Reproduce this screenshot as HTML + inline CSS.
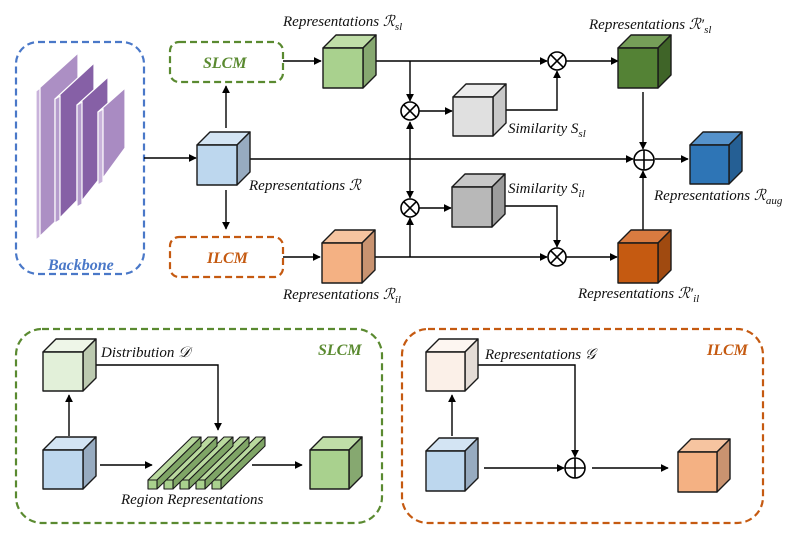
<!DOCTYPE html>
<html><head><meta charset="utf-8"><style>
html,body{margin:0;padding:0;background:#fff}
svg{display:block}
text{font-family:"Liberation Serif",serif;font-style:italic;font-size:15px;fill:#111}
</style></head><body>
<svg width="809" height="537" viewBox="0 0 809 537" xmlns="http://www.w3.org/2000/svg">
<defs>
<marker id="a" viewBox="0 0 10 10" refX="9" refY="5" markerWidth="8" markerHeight="8" markerUnits="userSpaceOnUse" orient="auto"><path d="M0,0L10,5L0,10z" fill="#000"/></marker>
</defs>
<g fill="none" stroke-width="2.2" stroke-dasharray="7,4">
<rect x="16" y="42" width="128" height="232" rx="22" stroke="#4a78c8"/>
<rect x="170" y="42" width="113" height="40" rx="9" stroke="#5a8a30"/>
<rect x="170" y="237" width="113" height="40" rx="9" stroke="#c55a11"/>
<rect x="16" y="329" width="366" height="194" rx="26" stroke="#5a8a30"/>
<rect x="402" y="329" width="361" height="194" rx="26" stroke="#c55a11"/>
</g>
<!-- backbone planes -->
<g stroke="#fff" stroke-width="1.2">
<polygon points="36,91 78,53 78,200 36,240" fill="#ac8fc4"/>
<polygon points="36,91 40,88 40,237 36,240" fill="#c9b3db"/>
<polygon points="55,99 94,63 94,183 55,223" fill="#8660a6"/>
<polygon points="55,99 60,96 60,220 55,223" fill="#b59ccd"/>
<polygon points="77,105 108,77 108,168 77,207" fill="#8660a6"/>
<polygon points="77,105 82,102 82,204 77,207" fill="#b59ccd"/>
<polygon points="98,112 125,88 125,148 98,185" fill="#a98bc2"/>
<polygon points="98,112 103,109 103,182 98,185" fill="#c9b3db"/>
</g>
<text x="48" y="270" style="font-weight:bold;fill:#4a78c8;font-size:16px">Backbone</text>
<text x="203" y="68" style="font-weight:bold;fill:#5a8a30;font-size:16px">SLCM</text>
<text x="207" y="263" style="font-weight:bold;fill:#c55a11;font-size:16px">ILCM</text>
<!-- connectors -->
<g stroke="#000" stroke-width="1.4" fill="none">
<line x1="144" y1="158" x2="196" y2="158" marker-end="url(#a)"/>
<line x1="226" y1="128" x2="226" y2="86" marker-end="url(#a)"/>
<line x1="226" y1="190" x2="226" y2="229" marker-end="url(#a)"/>
<line x1="250" y1="159" x2="633" y2="159" marker-end="url(#a)"/>
<line x1="283" y1="61" x2="321" y2="61" marker-end="url(#a)"/>
<line x1="283" y1="257" x2="320" y2="257" marker-end="url(#a)"/>
<line x1="376" y1="61" x2="547" y2="61" marker-end="url(#a)"/>
<line x1="410" y1="61" x2="410" y2="101" marker-end="url(#a)"/>
<line x1="419" y1="111" x2="452" y2="111" marker-end="url(#a)"/>
<polyline points="506,110 557,110 557,71" marker-end="url(#a)"/>
<line x1="410" y1="160" x2="410" y2="122" marker-end="url(#a)"/>
<line x1="410" y1="160" x2="410" y2="198" marker-end="url(#a)"/>
<line x1="419" y1="208" x2="451" y2="208" marker-end="url(#a)"/>
<polyline points="505,206 557,206 557,247" marker-end="url(#a)"/>
<line x1="375" y1="257" x2="547" y2="257" marker-end="url(#a)"/>
<line x1="410" y1="257" x2="410" y2="218" marker-end="url(#a)"/>
<line x1="566" y1="61" x2="618" y2="61" marker-end="url(#a)"/>
<line x1="566" y1="257" x2="617" y2="257" marker-end="url(#a)"/>
<line x1="643" y1="92" x2="643" y2="149" marker-end="url(#a)"/>
<line x1="643" y1="230" x2="643" y2="171" marker-end="url(#a)"/>
<line x1="655" y1="159" x2="688" y2="159" marker-end="url(#a)"/>
<!-- bottom SLCM -->
<line x1="69" y1="436" x2="69" y2="395" marker-end="url(#a)"/>
<polyline points="96,365 218,365 218,430" marker-end="url(#a)"/>
<line x1="100" y1="465" x2="152" y2="465" marker-end="url(#a)"/>
<line x1="252" y1="465" x2="302" y2="465" marker-end="url(#a)"/>
<!-- bottom ILCM -->
<line x1="452" y1="436" x2="452" y2="395" marker-end="url(#a)"/>
<polyline points="478,365 575,365 575,457" marker-end="url(#a)"/>
<line x1="484" y1="468" x2="564" y2="468" marker-end="url(#a)"/>
<line x1="592" y1="468" x2="668" y2="468" marker-end="url(#a)"/>
</g>
<!-- operators -->
<g stroke="#000" stroke-width="1.6" fill="#fff">
<circle cx="557" cy="61" r="9"/><circle cx="410" cy="111" r="9"/><circle cx="410" cy="208" r="9"/><circle cx="557" cy="257" r="9"/>
<circle cx="644" cy="160" r="10"/><circle cx="575" cy="468" r="10"/>
</g>
<g stroke="#000" stroke-width="1.6">
<path d="M550.6,54.6L563.4,67.4M563.4,54.6L550.6,67.4"/>
<path d="M403.6,104.6L416.4,117.4M416.4,104.6L403.6,117.4"/>
<path d="M403.6,201.6L416.4,214.4M416.4,201.6L403.6,214.4"/>
<path d="M550.6,250.6L563.4,263.4M563.4,250.6L550.6,263.4"/>
<path d="M634,160H654M644,150V170"/>
<path d="M565,468H585M575,458V478"/>
</g>
<!-- cubes: front x,y,w ; depth 13 -->
<g stroke="#1a1a1a" stroke-width="1.4" stroke-linejoin="round">
<!-- R -->
<polygon points="197,145 210,132 250,132 237,145" fill="#d3e4f3"/><polygon points="237,145 250,132 250,172 237,185" fill="#97abc0"/><rect x="197" y="145" width="40" height="40" fill="#bdd7ee"/>
<!-- Rsl -->
<polygon points="323,48 336,35 376,35 363,48" fill="#c0dea8"/><polygon points="363,48 376,35 376,75 363,88" fill="#86a870"/><rect x="323" y="48" width="40" height="40" fill="#a9d18e"/>
<!-- gray1 -->
<polygon points="453,97 466,84 506,84 493,97" fill="#ececec"/><polygon points="493,97 506,84 506,123 493,136" fill="#c8c8c8"/><rect x="453" y="97" width="40" height="39" fill="#e0e0e0"/>
<!-- gray2 -->
<polygon points="452,187 465,174 505,174 492,187" fill="#c8c8c8"/><polygon points="492,187 505,174 505,214 492,227" fill="#9c9c9c"/><rect x="452" y="187" width="40" height="40" fill="#b8b8b8"/>
<!-- Ril -->
<polygon points="322,243 335,230 375,230 362,243" fill="#f6c4a0"/><polygon points="362,243 375,230 375,270 362,283" fill="#c99370"/><rect x="322" y="243" width="40" height="40" fill="#f4b183"/>
<!-- R'sl -->
<polygon points="618,48 631,35 671,35 658,48" fill="#759e58"/><polygon points="658,48 671,35 671,75 658,88" fill="#3f6428"/><rect x="618" y="48" width="40" height="40" fill="#548235"/>
<!-- R'il -->
<polygon points="618,243 631,230 671,230 658,243" fill="#d97b40"/><polygon points="658,243 671,230 671,270 658,283" fill="#a04a10"/><rect x="618" y="243" width="40" height="40" fill="#c55a11"/>
<!-- Raug -->
<polygon points="690,145 703,132 742,132 729,145" fill="#5592cb"/><polygon points="729,145 742,132 742,171 729,184" fill="#255f94"/><rect x="690" y="145" width="39" height="39" fill="#2e75b6"/>
<!-- bottom SLCM cubes -->
<polygon points="43,352 56,339 96,339 83,352" fill="#eef6e8"/><polygon points="83,352 96,339 96,378 83,391" fill="#bccab0"/><rect x="43" y="352" width="40" height="39" fill="#e2f0d9"/>
<polygon points="43,450 56,437 96,437 83,450" fill="#d3e4f3"/><polygon points="83,450 96,437 96,476 83,489" fill="#97abc0"/><rect x="43" y="450" width="40" height="39" fill="#bdd7ee"/>
<polygon points="310,450 323,437 362,437 349,450" fill="#c0dea8"/><polygon points="349,450 362,437 362,476 349,489" fill="#86a870"/><rect x="310" y="450" width="39" height="39" fill="#a9d18e"/>
<!-- bottom ILCM cubes -->
<polygon points="426,352 439,339 478,339 465,352" fill="#fdf6f1"/><polygon points="465,352 478,339 478,378 465,391" fill="#e4dcd6"/><rect x="426" y="352" width="39" height="39" fill="#fbf0e8"/>
<polygon points="426,451 439,438 478,438 465,451" fill="#d3e4f3"/><polygon points="465,451 478,438 478,478 465,491" fill="#97abc0"/><rect x="426" y="451" width="39" height="40" fill="#bdd7ee"/>
<polygon points="678,452 691,439 730,439 717,452" fill="#f6c4a0"/><polygon points="717,452 730,439 730,479 717,492" fill="#c99370"/><rect x="678" y="452" width="39" height="40" fill="#f4b183"/>
</g>
<!-- region bars -->
<g stroke="#1a1a1a" stroke-width="1.1" stroke-linejoin="round">
<g id="bar"><polygon points="212,480 221,480 265,437 256,437" fill="#b9d99e"/><polygon points="221,480 221,489 265,446 265,437" fill="#7fa566"/><rect x="212" y="480" width="9" height="9" fill="#a9d18e"/></g>
<polygon points="196,480 205,480 249,437 240,437" fill="#b9d99e"/><polygon points="205,480 205,489 249,446 249,437" fill="#7fa566"/><rect x="196" y="480" width="9" height="9" fill="#a9d18e"/>
<polygon points="180,480 189,480 233,437 224,437" fill="#b9d99e"/><polygon points="189,480 189,489 233,446 233,437" fill="#7fa566"/><rect x="180" y="480" width="9" height="9" fill="#a9d18e"/>
<polygon points="164,480 173,480 217,437 208,437" fill="#b9d99e"/><polygon points="173,480 173,489 217,446 217,437" fill="#7fa566"/><rect x="164" y="480" width="9" height="9" fill="#a9d18e"/>
<polygon points="148,480 157,480 201,437 192,437" fill="#b9d99e"/><polygon points="157,480 157,489 201,446 201,437" fill="#7fa566"/><rect x="148" y="480" width="9" height="9" fill="#a9d18e"/>
</g>
<!-- labels -->
<text x="283" y="26">Representations ℛ<tspan font-size="11" dy="4">sl</tspan></text>
<text x="249" y="190">Representations ℛ</text>
<text x="508" y="133">Similarity S<tspan font-size="11" dy="4">sl</tspan></text>
<text x="508" y="193">Similarity S<tspan font-size="11" dy="4">il</tspan></text>
<text x="283" y="299">Representations ℛ<tspan font-size="11" dy="4">il</tspan></text>
<text x="589" y="29">Representations ℛ′<tspan font-size="11" dy="4">sl</tspan></text>
<text x="578" y="298">Representations ℛ′<tspan font-size="11" dy="4">il</tspan></text>
<text x="654" y="200">Representations ℛ<tspan font-size="11" dy="4">aug</tspan></text>
<text x="101" y="357">Distribution 𝒟</text>
<text x="121" y="504">Region Representations</text>
<text x="318" y="355" style="font-weight:bold;fill:#5a8a30;font-size:16px">SLCM</text>
<text x="485" y="359">Representations 𝒢</text>
<text x="707" y="355" style="font-weight:bold;fill:#c55a11;font-size:16px">ILCM</text>
</svg>
</body></html>
